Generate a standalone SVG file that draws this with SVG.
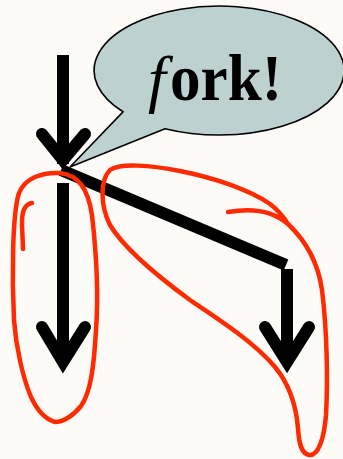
<svg xmlns="http://www.w3.org/2000/svg" width="343" height="459" viewBox="0 0 343 459">
<style>
.shaft{stroke:#000;stroke-width:12;fill:none;stroke-linecap:butt}
.head{stroke:#000;stroke-width:12;fill:none;stroke-linecap:round;stroke-linejoin:miter;stroke-miterlimit:10}
.ink{stroke:#ff2a00;stroke-width:4.5;fill:none;stroke-linecap:round;stroke-linejoin:round}
.txt{font-family:"Liberation Serif","Times New Roman",serif;fill:#000}
</style>
<rect width="343" height="459" fill="#fcfbf7"/>
<g id="bubble">
<path d="M165,128.7 L70,167 L123,111.8 A125,64.5 0 1 1 165,128.7 Z" fill="#bdd2d0" stroke="#000" stroke-width="1.6" stroke-linejoin="miter"/>
<text class="txt" x="148" y="100" font-size="64" font-style="italic">f</text>
<text class="txt" x="170" y="100" font-size="66" font-weight="bold" textLength="112" lengthAdjust="spacingAndGlyphs">ork!</text>
</g>
<g id="connectors">
<line class="shaft" x1="63" y1="55" x2="63" y2="164"/>
<polyline class="head" points="42,134 63,160 85,134"/>
<line class="shaft" x1="61" y1="170" x2="286" y2="265"/>
<line class="shaft" x1="63" y1="183" x2="63" y2="358"/>
<polyline class="head" points="42,327 63,362 85,327"/>
<line class="shaft" x1="287" y1="269" x2="287" y2="358"/>
<polyline class="head" points="265,327 287,362 309,327"/>
</g>
<g id="annotations">
<path class="ink" d="M14,320 C12,280 12,215 19,193 C25,178 42,172 60,173 C78,175 88,188 92,215 C96,250 99,290 96,330 C94,365 91,392 81,406 C73,416 63,422 55,422 C45,419 37,410 31,397 C23,378 16,348 14,320 Z"/>
<path class="ink" d="M32,203 C26,204 22,210 22,222 C22,232 23,242 23,249"/>
<path class="ink" d="M228,212 C250,208 272,210 288,224 C305,240 318,262 322,290 C327,330 328,380 326,415 C324,440 318,455 310,455 C302,455 299,445 298,428 C296,405 290,385 275,367 C255,343 220,320 190,300 C160,278 125,250 110,225 C100,205 100,180 110,170 C120,163 150,165 180,171 C215,178 250,190 270,204 C278,210 283,216 288,224"/>
</g>
</svg>
